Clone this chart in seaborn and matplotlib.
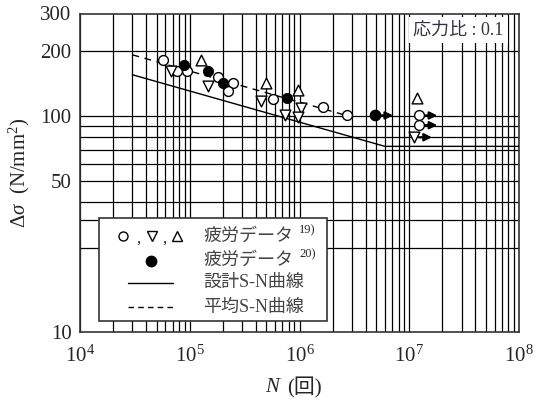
import numpy as np
import pandas as pd
import matplotlib
matplotlib.use("Agg")
import matplotlib.pyplot as plt
import seaborn as sns
from matplotlib.patches import Rectangle
from matplotlib.ticker import LogLocator, NullLocator, FixedLocator, FixedFormatter

# fatigue data 19) : open circle / down triangle / up triangle  (N, stress range)
circle_n = [5.7e4, 7.6e4, 9.5e4, 1.82e5, 2.46e5, 2.22e5, 5.77e5, 1.63e6, 2.73e6]
circle_s = [182, 162, 162, 152, 143, 131, 120, 111, 101]
dtri_n = [6.7e4, 1.48e5, 4.43e5, 1.04e6, 7.42e5, 9.7e5]
dtri_s = [162, 139, 118, 109, 101, 99]
utri_n = [1.26e5, 5.0e5, 9.7e5, 1.18e7]
utri_s = [182, 143, 132, 122]
# fatigue data 20) : filled circle
filled_n = [8.9e4, 1.48e5, 2.0e5, 7.7e5]
filled_s = [174, 162, 143, 122]

# run-outs (arrow to the right)
runout_kind = ['filled', 'circle', 'circle', 'dtri']
runout_n = [4.87e6, 1.23e7, 1.23e7, 1.1e7]
runout_s = [101, 101, 91, 80]

# S-N curves
design_n = [3e4, 6.0e6, 1e8]
design_s = [156, 72.6, 72.6]
mean_n = [3e4, 2.73e6]
mean_s = [193, 100.7]

ytick_vals = [10, 50, 100, 200, 300]
hgrid_vals = [200, 100, 90, 80, 70, 60, 50, 40, 33, 24.5]

sns.set_style("white")
plt.rcParams['font.family'] = ['Liberation Serif', 'Noto Sans CJK JP', 'DejaVu Sans']
plt.rcParams['mathtext.fontset'] = 'custom'
plt.rcParams['mathtext.rm'] = 'Liberation Serif'
plt.rcParams['mathtext.it'] = 'Liberation Serif:italic'

fig = plt.figure(figsize=(5.39, 4.01), dpi=100)
ax = fig.add_axes([80 / 539, 1 - 332 / 401, 439 / 539, 318.5 / 401])
ax.set_xscale('log')
ax.set_yscale('log')
ax.set_xlim(1e4, 1e8)
ax.set_ylim(10, 300)

# grid
ax.xaxis.set_major_locator(LogLocator(base=10, numticks=10))
ax.xaxis.set_minor_locator(LogLocator(base=10, subs=np.arange(2, 10), numticks=20))
ax.grid(which='both', axis='x', color='black', lw=0.9)
for v in hgrid_vals:
    ax.axhline(v, color='black', lw=0.9, zorder=0.5)
ax.yaxis.set_major_locator(FixedLocator(ytick_vals))
ax.yaxis.set_major_formatter(FixedFormatter([str(v) for v in ytick_vals]))
ax.yaxis.set_minor_locator(NullLocator())
ax.tick_params(which='both', length=0)
ax.tick_params(axis='y', labelsize=15, pad=6)
ax.tick_params(axis='x', labelsize=15, pad=10)
for sp in ax.spines.values():
    sp.set_color('#333333')
    sp.set_linewidth(1.2)

# curves
curves = pd.concat([
    pd.DataFrame({'N': design_n, 's': design_s, 'c': 'design'}),
    pd.DataFrame({'N': mean_n, 's': mean_s, 'c': 'mean'}),
])
sns.lineplot(data=curves[curves.c == 'design'], x='N', y='s', color='black', lw=1.0,
             estimator=None, sort=False, ax=ax, zorder=3)
sns.lineplot(data=curves[curves.c == 'mean'], x='N', y='s', color='black', lw=1.0,
             linestyle=(0, (5, 4)), estimator=None, sort=False, ax=ax, zorder=3)

# data points
open_style = dict(facecolor='white', edgecolor='black', linewidth=1.0, zorder=4, ax=ax)
sns.scatterplot(x=circle_n, y=circle_s, marker='o', s=50, **open_style)
sns.scatterplot(x=dtri_n, y=dtri_s, marker='v', s=60, **open_style)
sns.scatterplot(x=utri_n, y=utri_s, marker='^', s=60, **open_style)
sns.scatterplot(x=filled_n, y=filled_s, marker='o', s=55, color='black',
                edgecolor='black', zorder=4, ax=ax)

mk = {'filled': ('o', 'black', 55), 'circle': ('o', 'white', 50), 'dtri': ('v', 'white', 60)}
for kind, n, s in zip(runout_kind, runout_n, runout_s):
    m, fc, sz = mk[kind]
    ax.annotate('', xy=(n * 1.55, s), xytext=(n * 1.05, s),
                arrowprops=dict(arrowstyle='-|>', color='black', lw=1.6, mutation_scale=11),
                zorder=3)
    sns.scatterplot(x=[n], y=[s], marker=m, s=sz, facecolor=fc, edgecolor='black',
                    linewidth=1.0, zorder=4, ax=ax)

ax.set_xlabel('')
ax.set_ylabel('Δ$\\mathit{σ}$  (N/mm$^2$)', fontsize=15, labelpad=6)
# x label: italic N + (回), as two texts so 回 can fall back to the CJK font
fig.text(279 / 539, 1 - 388 / 401, 'N', fontsize=15, style='italic', ha='right', va='center')
fig.text(287 / 539, 1 - 388 / 401, '(回)', fontsize=15, ha='left', va='center')


# manual legend (axes fractions from pixel positions)
def axp(px, py):
    return (px - 80) / 439, (332 - py) / 318.5


x0, y0 = axp(99.3, 321)
x1, y1 = axp(327.3, 218.3)
ax.add_patch(Rectangle((x0, y0), x1 - x0, y1 - y0, transform=ax.transAxes,
                       facecolor='white', edgecolor='#333333', lw=1.2, zorder=6))
rows = [236.7, 260.7, 282.7, 307.3]
tr = ax.transAxes
for px, m in [(123.3, 'o'), (151.7, 'v'), (177.3, '^')]:
    ax.plot(*axp(px, rows[0] - 1), marker=m, ms=6.5 if m == 'o' else 7.5, mfc='white',
            mec='black', mew=1.0, transform=tr, zorder=7)
for px in [138.5, 164.5]:
    ax.text(*axp(px, rows[0] + 2), ',', fontsize=12, ha='center', va='center',
            transform=tr, zorder=7)
ax.plot(*axp(151, rows[1]), marker='o', ms=7.5, color='black', transform=tr, zorder=7)
lx0, _ = axp(128.3, 0)
lx1, _ = axp(173.3, 0)
ax.plot([lx0, lx1], [axp(0, rows[2])[1]] * 2, color='black', lw=1.0, transform=tr, zorder=7)
ax.plot([lx0, lx1], [axp(0, rows[3])[1]] * 2, color='black', lw=1.0,
        linestyle=(0, (4, 3)), transform=tr, zorder=7)
labels = ['疲労データ', '疲労データ', '設計S-N曲線', '平均S-N曲線']
for r, lab in zip(rows, labels):
    ax.text(*axp(203.3, r), lab, fontsize=13, ha='left', va='center',
            color='#444444', transform=tr, zorder=7)
for r, sup in zip(rows[:2], ['19)', '20)']):
    ax.text(*axp(299, r - 6), sup, fontsize=9, ha='left', va='center',
            transform=tr, zorder=7)

ax.text(*axp(413, 30), '応力比 : 0.1', fontsize=13, ha='left', va='center', color='#333344',
        transform=tr, zorder=7,
        bbox=dict(facecolor='white', edgecolor='none', pad=3))

fig.savefig('out.png', dpi=100)
